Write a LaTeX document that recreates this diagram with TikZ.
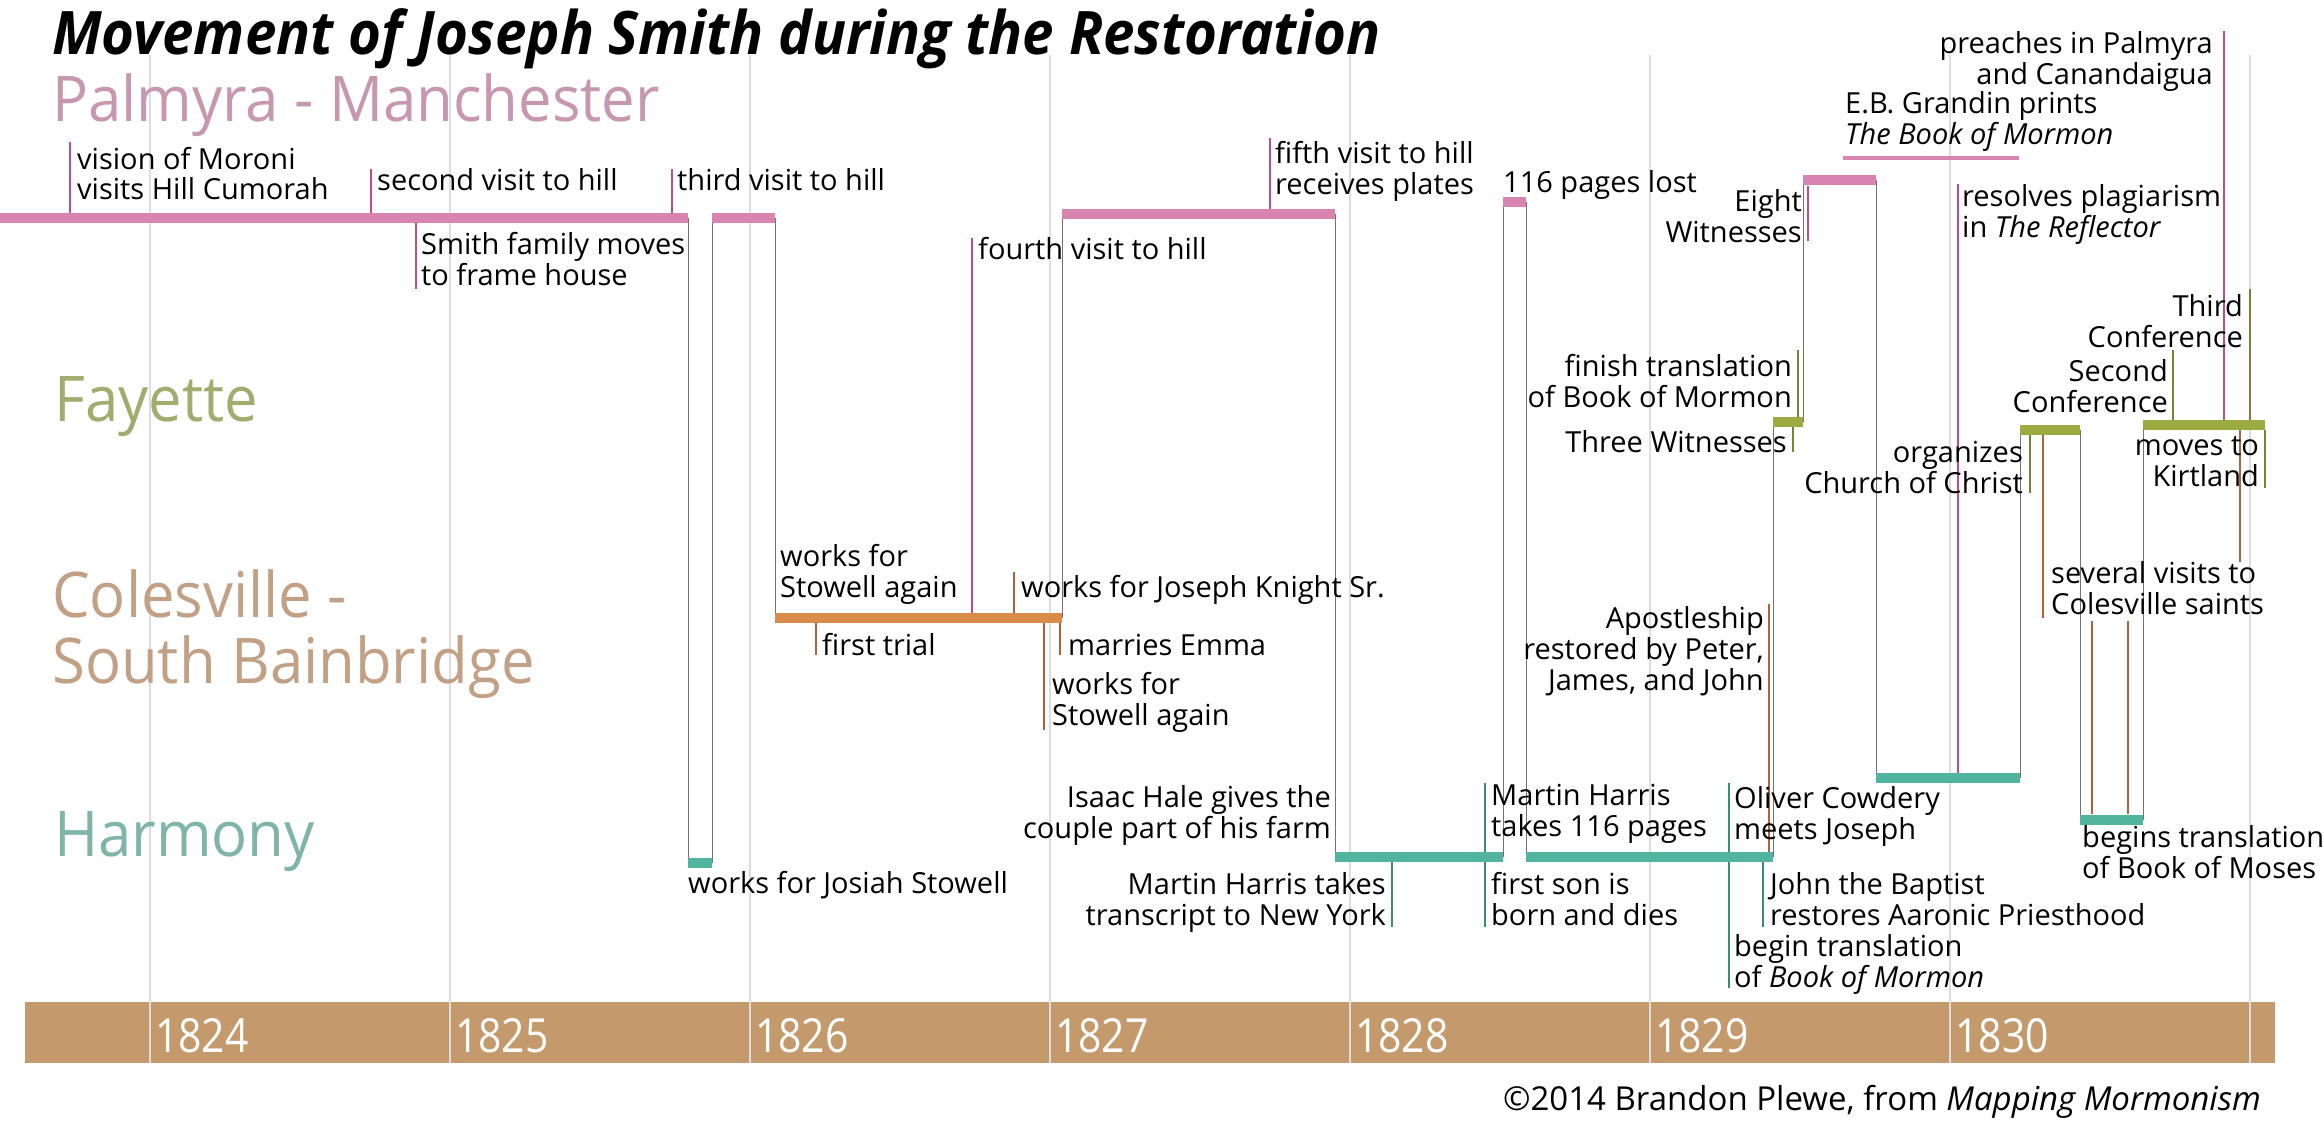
\documentclass[tikz,border=0pt]{standalone}
\usepackage{fontspec}
\setmainfont{Open Sans}
\newfontfamily\condfont{Open Sans}[FakeStretch=0.95]
\newfontfamily\yearfont{Open Sans}[FakeStretch=0.87]
\newfontfamily\titlefont{Open Sans}[FakeStretch=0.94]
\usetikzlibrary{positioning}

\definecolor{palbar}{HTML}{D785B0}
\definecolor{paltick}{HTML}{BF4C8A}
\definecolor{palname}{HTML}{C797B0}
\definecolor{faybar}{HTML}{9BAA41}
\definecolor{faytick}{HTML}{76823A}
\definecolor{fayname}{HTML}{A2AC6E}
\definecolor{colbar}{HTML}{D88B4A}
\definecolor{coltick}{HTML}{A8643E}
\definecolor{colname}{HTML}{C2A085}
\definecolor{harbar}{HTML}{50B49E}
\definecolor{hartick}{HTML}{3A8C7A}
\definecolor{harname}{HTML}{7FB5A8}
\definecolor{yearbar}{HTML}{C49A6C}
\definecolor{gridgray}{HTML}{DDDDDD}
\definecolor{linkgray}{HTML}{7A7073}

\newcommand\lblsize{\fontsize{29}{31}\selectfont}
\newcommand\placesize{\fontsize{63}{66}\condfont}

\begin{document}
\begin{tikzpicture}[x=1pt,y=-1pt,
  lbl/.style={font=\lblsize, inner sep=0pt, anchor=base west, align=left},
  rlbl/.style={lbl, anchor=base east, align=right},
  place/.style={font=\placesize, inner sep=0pt, anchor=base west, align=left},
  yearlbl/.style={font=\fontsize{47}{50}\yearfont, text=white, inner sep=0pt},
  grid/.style={gridgray, line width=1.2pt},
  link/.style={linkgray, line width=1pt},
  tick/.style={line width=1.6pt},
  track/.style={line width=10pt}]

\useasboundingbox (0,0) rectangle (2324,1121);

\fill[yearbar] (25,1002) rectangle (2275,1063);
\foreach \i in {0,...,7} {
  \coordinate (gt\i) at (150+300*\i,55);
  \coordinate (gb\i) at (150+300*\i,1063);
  \path (gt\i) edge[grid] (gb\i);
}
\foreach \yr [count=\i from 0] in {1824,...,1830} {
  \coordinate (yr\i) at (150+300*\i,1052);
  \node[yearlbl, base right=5pt of yr\i] (year\yr) {\yr};
}

\node[anchor=base west, inner sep=0pt, font=\fontsize{60}{62}\titlefont\bfseries\itshape] (title) at (52,55)
  {Movement of Joseph Smith during the Restoration};
\node[place, palname] (palmyra) at (52,122) {Palmyra - Manchester};
\node[place, fayname] (fayette) at (54,421) {Fayette};
\node[place, colname] (colesville) at (52,683) {Colesville -\\South Bainbridge};
\node[place, harname] (harmony) at (54,856) {Harmony};

\coordinate (p1s) at (0,218);    \coordinate (p1e) at (688,218);
\coordinate (h1s) at (688,863);  \coordinate (h1e) at (712,863);
\coordinate (p2s) at (712,218);  \coordinate (p2e) at (775,218);
\coordinate (c1s) at (775,618);  \coordinate (c1e) at (1062,618);
\coordinate (p3s) at (1062,214); \coordinate (p3e) at (1335,214);
\coordinate (h2s) at (1335,857); \coordinate (h2e) at (1503,857);
\coordinate (p4s) at (1503,202); \coordinate (p4e) at (1526,202);
\coordinate (h3s) at (1526,857); \coordinate (h3e) at (1773,857);
\coordinate (f1s) at (1773,422); \coordinate (f1e) at (1803,422);
\coordinate (p5s) at (1803,180); \coordinate (p5e) at (1876,180);
\coordinate (h4s) at (1876,778); \coordinate (h4e) at (2020,778);
\coordinate (f2s) at (2020,430); \coordinate (f2e) at (2080,430);
\coordinate (h5s) at (2080,820); \coordinate (h5e) at (2143,820);
\coordinate (f3s) at (2143,425); \coordinate (f3e) at (2265,425);
\coordinate (gr1) at (1843,158); \coordinate (gr2) at (2019,158);

\path (p1e) edge[link] (h1s)
      (h1e) edge[link] (p2s)
      (p2e) edge[link] (c1s)
      (c1e) edge[link] (p3s)
      (p3e) edge[link] (h2s)
      (h2e) edge[link] (p4s)
      (p4e) edge[link] (h3s)
      (h3e) edge[link] (f1s)
      (f1e) edge[link] (p5s)
      (p5e) edge[link] (h4s)
      (h4e) edge[link] (f2s)
      (f2e) edge[link] (h5s)
      (h5e) edge[link] (f3s);

\foreach \x/\ya/\yb/\c in {70/142/213/paltick, 371/169/213/paltick, 672/169/213/paltick,
    416/223/289/paltick, 972/238/613/paltick, 1270/138/209/paltick, 1808/186/241/paltick,
    1958/184/773/paltick, 2224/31/420/paltick,
    1798/350/417/faytick, 1793/427/452/faytick, 2030/434/493/faytick, 2173/350/420/faytick,
    2250/289/420/faytick, 2265/430/488/faytick,
    1014/572/613/coltick, 816/623/655/coltick, 1060/623/655/coltick, 1044/623/730/coltick,
    1769/604/852/coltick, 2043/434/618/coltick, 2240/430/562/coltick, 2092/621/814/coltick,
    2128/621/814/coltick,
    1392/862/927/hartick, 1485/783/853/hartick, 1485/862/927/hartick, 1729/783/853/hartick,
    1729/862/988/hartick, 1763/862/927/hartick} {
  \coordinate (ta) at (\x,\ya);
  \coordinate (tb) at (\x,\yb);
  \path (ta) edge[tick, \c] (tb);
}

\path (p1s) edge[track, palbar] (p1e)
      (p2s) edge[track, palbar] (p2e)
      (p3s) edge[track, palbar] (p3e)
      (p4s) edge[track, palbar] (p4e)
      (p5s) edge[track, palbar] (p5e)
      (gr1) edge[line width=4.5pt, palbar] (gr2)
      (c1s) edge[track, colbar] (c1e)
      (f1s) edge[track, faybar] (f1e)
      (f2s) edge[track, faybar] (f2e)
      (f3s) edge[track, faybar] (f3e)
      (h1s) edge[track, harbar] (h1e)
      (h2s) edge[track, harbar] (h2e)
      (h3s) edge[track, harbar] (h3e)
      (h4s) edge[track, harbar] (h4e)
      (h5s) edge[track, harbar] (h5e);

\node[lbl] (moroni) at (77,200) {vision of Moroni\\visits Hill Cumorah};
\node[lbl] (second) at (377,190) {second visit to hill};
\node[lbl] (third) at (677,190) {third visit to hill};
\node[lbl] (frame) at (421,285) {Smith family moves\\to frame house};
\node[lbl] (fourth) at (978,259) {fourth visit to hill};
\node[lbl] (fifth) at (1275,194) {fifth visit to hill\\receives plates};
\node[lbl] (lost) at (1503,192) {116 pages lost};
\node[rlbl] (eight) at (1802,242) {Eight\\Witnesses};
\node[lbl] (grandin) at (1845,145) {E.B. Grandin prints\\\textit{The Book of Mormon}};
\node[lbl] (reflector) at (1962,237) {resolves plagiarism\\in \textit{The Reflector}};
\node[rlbl] (preach) at (2213,85) {preaches in Palmyra\\and Canandaigua};

\node[rlbl] (finish) at (1792,407) {finish translation\\of Book of Mormon};
\node[rlbl] (three) at (1787,452) {Three Witnesses};
\node[rlbl] (church) at (2023,493) {organizes\\Church of Christ};
\node[rlbl] (conf2) at (2168,412) {Second\\Conference};
\node[rlbl] (conf3) at (2243,347) {Third\\Conference};
\node[rlbl] (kirtland) at (2259,486) {moves to\\Kirtland};

\node[lbl] (stowella) at (780,597) {works for\\Stowell again};
\node[lbl] (knight) at (1021,597) {works for Joseph Knight Sr.};
\node[lbl] (trial) at (822,655) {first trial};
\node[lbl] (emma) at (1068,655) {marries Emma};
\node[lbl] (stowellb) at (1052,725) {works for\\Stowell again};
\node[rlbl] (apostle) at (1764,690) {Apostleship\\restored by Peter,\\James, and John};
\node[lbl] (visits) at (2051,614) {several visits to\\Colesville saints};

\node[lbl] (josiah) at (688,893) {works for Josiah Stowell};
\node[rlbl] (hale) at (1331,838) {Isaac Hale gives the\\couple part of his farm};
\node[rlbl] (transcript) at (1386,925) {Martin Harris takes\\transcript to New York};
\node[lbl] (harris) at (1491,836) {Martin Harris\\takes 116 pages};
\node[lbl] (son) at (1491,925) {first son is\\born and dies};
\node[lbl] (oliver) at (1734,839) {Oliver Cowdery\\meets Joseph};
\node[lbl] (baptist) at (1770,925) {John the Baptist\\restores Aaronic Priesthood};
\node[lbl] (begin) at (1734,987) {begin translation\\of \textit{Book of Mormon}};
\node[lbl] (moses) at (2082,878) {begins translation\\of Book of Moses};

\node[rlbl, font=\fontsize{33}{35}\selectfont] (credit) at (2261,1110)
  {\textcopyright 2014 Brandon Plewe, from \textit{Mapping Mormonism}};
\end{tikzpicture}
\end{document}
